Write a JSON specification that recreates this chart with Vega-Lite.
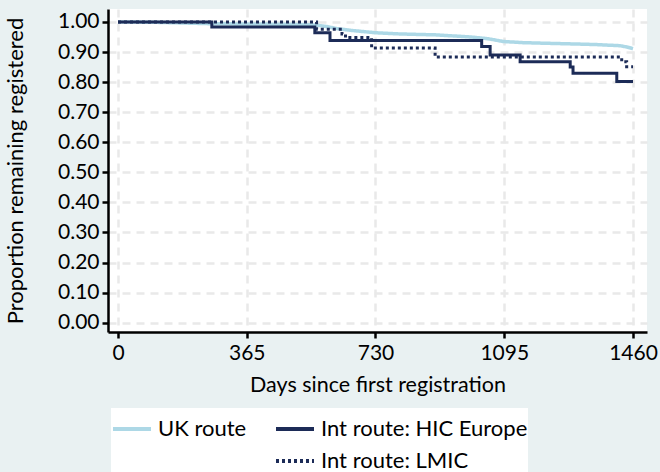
{
  "$schema": "https://vega.github.io/schema/vega-lite/v6.json",
  "width": 539,
  "height": 323,
  "autosize": {"type": "none"},
  "padding": {"left": 108, "top": 9, "right": 13, "bottom": 140},
  "background": "#E9F1F2",
  "config": {
    "font": "Lato",
    "view": {"fill": "white", "stroke": null},
    "axis": {
      "labelFont": "Lato", "labelFontSize": 21, "labelColor": "black",
      "titleFont": "Lato", "titleFontSize": 21.5, "titleFontWeight": "normal", "titleColor": "black",
      "domainColor": "black", "domainWidth": 2.5,
      "tickColor": "black", "tickWidth": 2.5, "tickSize": 6,
      "grid": true, "gridColor": "#E9E9E9", "gridDash": [8, 6], "gridWidth": 2.5
    },
    "legend": {
      "labelFont": "Lato", "labelFontSize": 22, "labelColor": "black", "labelLimit": 400
    }
  },
  "data": {
    "values": [
      {"route": "UK route", "days": 0, "surv": 1.0},
      {"route": "UK route", "days": 100, "surv": 0.999},
      {"route": "UK route", "days": 200, "surv": 0.996},
      {"route": "UK route", "days": 266, "surv": 0.994},
      {"route": "UK route", "days": 400, "surv": 0.993},
      {"route": "UK route", "days": 500, "surv": 0.992},
      {"route": "UK route", "days": 558, "surv": 0.990},
      {"route": "UK route", "days": 590, "surv": 0.985},
      {"route": "UK route", "days": 620, "surv": 0.978},
      {"route": "UK route", "days": 660, "surv": 0.972},
      {"route": "UK route", "days": 730, "surv": 0.964},
      {"route": "UK route", "days": 800, "surv": 0.960},
      {"route": "UK route", "days": 900, "surv": 0.957},
      {"route": "UK route", "days": 1000, "surv": 0.950},
      {"route": "UK route", "days": 1050, "surv": 0.944},
      {"route": "UK route", "days": 1092, "surv": 0.935},
      {"route": "UK route", "days": 1150, "surv": 0.931},
      {"route": "UK route", "days": 1250, "surv": 0.928},
      {"route": "UK route", "days": 1350, "surv": 0.925},
      {"route": "UK route", "days": 1423, "surv": 0.921},
      {"route": "UK route", "days": 1445, "surv": 0.916},
      {"route": "UK route", "days": 1460, "surv": 0.911},
      {"route": "Int route: HIC Europe", "days": 0, "surv": 1.0},
      {"route": "Int route: HIC Europe", "days": 266, "surv": 0.983},
      {"route": "Int route: HIC Europe", "days": 558, "surv": 0.964},
      {"route": "Int route: HIC Europe", "days": 601, "surv": 0.938},
      {"route": "Int route: HIC Europe", "days": 1031, "surv": 0.918},
      {"route": "Int route: HIC Europe", "days": 1055, "surv": 0.890},
      {"route": "Int route: HIC Europe", "days": 1140, "surv": 0.868},
      {"route": "Int route: HIC Europe", "days": 1282, "surv": 0.850},
      {"route": "Int route: HIC Europe", "days": 1290, "surv": 0.829},
      {"route": "Int route: HIC Europe", "days": 1414, "surv": 0.802},
      {"route": "Int route: HIC Europe", "days": 1460, "surv": 0.802},
      {"route": "Int route: LMIC", "days": 0, "surv": 1.0},
      {"route": "Int route: LMIC", "days": 563, "surv": 0.976},
      {"route": "Int route: LMIC", "days": 635, "surv": 0.960},
      {"route": "Int route: LMIC", "days": 645, "surv": 0.948},
      {"route": "Int route: LMIC", "days": 719, "surv": 0.913},
      {"route": "Int route: LMIC", "days": 899, "surv": 0.883},
      {"route": "Int route: LMIC", "days": 1428, "surv": 0.868},
      {"route": "Int route: LMIC", "days": 1442, "surv": 0.851},
      {"route": "Int route: LMIC", "days": 1460, "surv": 0.851}
    ]
  },
  "encoding": {
    "x": {
      "field": "days", "type": "quantitative",
      "scale": {"domain": [-28.35, 1499.7], "nice": false, "zero": false},
      "axis": {"values": [0, 365, 730, 1095, 1460], "format": "d", "title": "Days since first registration", "labelPadding": 4, "titlePadding": 11}
    },
    "y": {
      "field": "surv", "type": "quantitative",
      "scale": {"domain": [-0.031, 1.043], "nice": false, "zero": false},
      "axis": {"values": [0, 0.1, 0.2, 0.3, 0.4, 0.5, 0.6, 0.7, 0.8, 0.9, 1.0], "format": ".2f", "title": "Proportion remaining registered", "titleFontSize": 22, "labelPadding": 3, "titlePadding": 30}
    },
    "color": {
      "field": "route", "type": "nominal",
      "scale": {"domain": ["UK route", " ", "Int route: HIC Europe", "Int route: LMIC"], "range": ["#ADD8E6", "transparent", "#1C2B57", "#1C2B57"]},
      "legend": {
        "title": null, "orient": "none", "legendX": 3, "legendY": 399,
        "columns": 2, "columnPadding": 21, "rowPadding": -9,
        "symbolType": "stroke", "symbolSize": 1444, "symbolStrokeWidth": 4, "labelOffset": 5,
        "fillColor": "white", "padding": 0
      }
    },
    "strokeDash": {
      "field": "route", "type": "nominal",
      "scale": {"domain": ["UK route", " ", "Int route: HIC Europe", "Int route: LMIC"], "range": [[1, 0], [1, 0], [1, 0], [3, 3]]},
      "legend": {
        "title": null, "orient": "none", "legendX": 3, "legendY": 399,
        "columns": 2, "columnPadding": 21, "rowPadding": -9,
        "symbolType": "stroke", "symbolSize": 1444, "symbolStrokeWidth": 4, "labelOffset": 5,
        "fillColor": "white", "padding": 0
      }
    }
  },
  "layer": [
    {
      "transform": [{"filter": "datum.route === 'UK route'"}],
      "mark": {"type": "line", "strokeWidth": 3.5, "strokeCap": "butt"}
    },
    {
      "transform": [{"filter": "datum.route !== 'UK route'"}],
      "mark": {"type": "line", "interpolate": "step-after", "strokeWidth": 3, "strokeCap": "butt"}
    }
  ]
}
